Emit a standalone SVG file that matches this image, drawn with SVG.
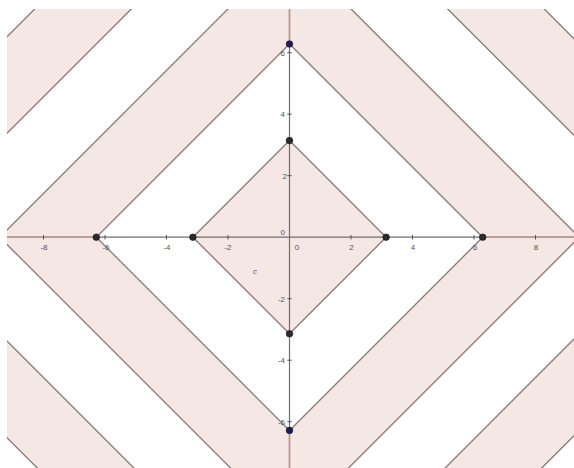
<svg xmlns="http://www.w3.org/2000/svg" width="574" height="468" viewBox="0 0 574 468">
<defs>
<clipPath id="plot"><rect x="7" y="9" width="567" height="459"/></clipPath>
<style>
.band{fill:#f4e7e4;fill-rule:evenodd;stroke:none}
.edge{fill:none;stroke:#8f7f7b;stroke-width:1.4}
.axis{stroke:#6e6e6e;stroke-width:1.2;fill:none}
.axo{stroke:#c49a88;stroke-width:1.6;fill:none}
.tick{stroke:#555;stroke-width:1}
.lbl{font-family:"Liberation Sans",Arial,sans-serif;font-size:8px;fill:#555}
.pt{fill:#2a2a2a;stroke:#111;stroke-width:0.6}
.ptb{fill:#1e1e5a;stroke:#111;stroke-width:0.6}
</style>
</defs>
<rect x="0" y="0" width="574" height="468" fill="#ffffff"/>
<g id="region" clip-path="url(#plot)">
<path class="band" d="M192.9,237.2 L289.5,140.6 L386.1,237.2 L289.5,333.8 Z M96.3,237.2 L289.5,44 L482.7,237.2 L289.5,430.4 Z M-0.3,237.2 L289.5,-52.6 L579.3,237.2 L289.5,527 Z M-96.9,237.2 L289.5,-149.2 L675.9,237.2 L289.5,623.6 Z M-193.5,237.2 L289.5,-245.8 L772.5,237.2 L289.5,720.2 Z"/>
<path class="edge" d="M192.9,237.2 L289.5,140.6 L386.1,237.2 L289.5,333.8 Z M96.3,237.2 L289.5,44 L482.7,237.2 L289.5,430.4 Z M-0.3,237.2 L289.5,-52.6 L579.3,237.2 L289.5,527 Z M-96.9,237.2 L289.5,-149.2 L675.9,237.2 L289.5,623.6 Z M-193.5,237.2 L289.5,-245.8 L772.5,237.2 L289.5,720.2 Z"/>
</g>
<g id="axes">
<line class="axis" x1="7" y1="237.2" x2="574" y2="237.2"/>
<line class="axis" x1="289.5" y1="9" x2="289.5" y2="468"/>
<line class="axo" x1="7" y1="237.2" x2="96.3" y2="237.2"/>
<line class="axo" x1="482.7" y1="237.2" x2="574" y2="237.2"/>
<line class="axo" x1="289.5" y1="9" x2="289.5" y2="44"/>
<line class="axo" x1="289.5" y1="430.4" x2="289.5" y2="468"/>
<g class="tick">
<line x1="43.5" y1="235" x2="43.5" y2="239.5"/>
<line x1="105" y1="235" x2="105" y2="239.5"/>
<line x1="166.5" y1="235" x2="166.5" y2="239.5"/>
<line x1="228" y1="235" x2="228" y2="239.5"/>
<line x1="351" y1="235" x2="351" y2="239.5"/>
<line x1="412.5" y1="235" x2="412.5" y2="239.5"/>
<line x1="474" y1="235" x2="474" y2="239.5"/>
<line x1="535.5" y1="235" x2="535.5" y2="239.5"/>
<line x1="287.3" y1="52.7" x2="291.7" y2="52.7"/>
<line x1="287.3" y1="114.2" x2="291.7" y2="114.2"/>
<line x1="287.3" y1="175.7" x2="291.7" y2="175.7"/>
<line x1="287.3" y1="298.7" x2="291.7" y2="298.7"/>
<line x1="287.3" y1="360.2" x2="291.7" y2="360.2"/>
<line x1="287.3" y1="421.7" x2="291.7" y2="421.7"/>
</g>
<g class="lbl" text-anchor="middle">
<text x="44" y="250">-8</text>
<text x="106" y="250">-6</text>
<text x="167" y="250">-4</text>
<text x="228" y="250">-2</text>
<text x="297" y="250">0</text>
<text x="351.5" y="250">2</text>
<text x="413" y="250">4</text>
<text x="475" y="250">6</text>
<text x="536" y="250">8</text>
</g>
<g class="lbl" text-anchor="end">
<text x="285" y="55.5">6</text>
<text x="285" y="117">4</text>
<text x="287" y="178.5">2</text>
<text x="285" y="234.5">0</text>
<text x="285" y="301.5">-2</text>
<text x="285" y="363">-4</text>
<text x="285" y="424.5">-6</text>
</g>
<text class="lbl" x="253" y="274" font-style="italic" font-size="9">c</text>
</g>
<g id="points">
<circle id="P1" class="pt" cx="192.9" cy="237.2" r="3.3"/>
<circle id="P2" class="pt" cx="386.1" cy="237.2" r="3.3"/>
<circle id="P3" class="pt" cx="289.5" cy="140.6" r="3.3"/>
<circle id="P4" class="pt" cx="289.5" cy="333.8" r="3.3"/>
<circle id="P5" class="pt" cx="96.3" cy="237.2" r="3.3"/>
<circle id="P6" class="pt" cx="482.7" cy="237.2" r="3.3"/>
<circle id="P7" class="ptb" cx="289.5" cy="44" r="3.3"/>
<circle id="P8" class="ptb" cx="289.5" cy="430.4" r="3.3"/>
</g>
</svg>
